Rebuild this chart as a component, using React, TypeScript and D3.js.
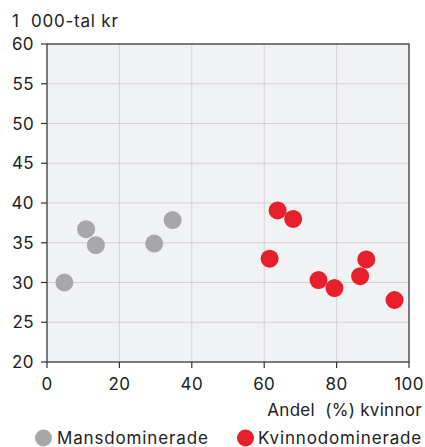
import React from "react";
import * as d3 from "d3";

const maleX = [4.8, 10.8, 13.5, 29.6, 34.7];
const maleY = [30.0, 36.7, 34.7, 34.9, 37.85];
const femaleX = [63.7, 68.0, 61.5, 88.2, 86.5, 75.0, 79.4, 96.0];
const femaleY = [39.07, 38.0, 33.0, 32.9, 30.8, 30.3, 29.3, 27.8];
const xTicks = [0, 20, 40, 60, 80, 100];
const yTicks = [20, 25, 30, 35, 40, 45, 50, 55, 60];
const seriesNames = ["Mansdominerade", "Kvinnodominerade"];
const yUnit = "1  000-tal kr";
const xTitle = "Andel  (%) kvinnor";

const W = 425, H = 447;
const left = 47, right = 409, top = 44, bottom = 362;
const font = "Inter, 'Noto Sans', sans-serif";
const gray = "#a7a7a9";
const red = "#e8202b";
const textColor = "#222";

export default function App() {
  const x = d3.scaleLinear().domain([0, 100]).range([left, right]);
  const y = d3.scaleLinear().domain([20, 60]).range([bottom, top]);
  return (
    <svg width={W} height={H} style={{ position: "absolute", left: 0, top: 0 }}>
      <rect x={left} y={top} width={right - left} height={bottom - top} fill="#f1f2f4" />
      {xTicks.map((t) => (
        <line key={"gx" + t} x1={x(t)} x2={x(t)} y1={top} y2={bottom} stroke="#d3d3d5" strokeWidth={1} />
      ))}
      {yTicks.map((t) => (
        <line key={"gy" + t} x1={left} x2={right} y1={y(t)} y2={y(t)} stroke="#d3d3d5" strokeWidth={1} />
      ))}
      <rect x={left} y={top} width={right - left} height={bottom - top} fill="none" stroke="#333" strokeWidth={1.2} />
      {yTicks.map((t) => (
        <g key={"ty" + t}>
          <line x1={left - 6} x2={left} y1={y(t)} y2={y(t)} stroke="#333" strokeWidth={1.2} />
          <text x={34} y={y(t) + 6} textAnchor="end" fontFamily={font} fontSize={17} letterSpacing={0.4} fill={textColor}>{t}</text>
        </g>
      ))}
      {xTicks.map((t) => (
        <g key={"tx" + t}>
          <line x1={x(t)} x2={x(t)} y1={bottom} y2={bottom + 6} stroke="#333" strokeWidth={1.2} />
          <text x={x(t)} y={390} textAnchor="middle" fontFamily={font} fontSize={17} letterSpacing={0.4} fill={textColor}>{t}</text>
        </g>
      ))}
      <text x={12} y={27} fontFamily={font} fontSize={17} letterSpacing={0.8} fill={textColor} style={{ whiteSpace: "pre" }}>{yUnit}</text>
      <text x={422} y={416} textAnchor="end" fontFamily={font} fontSize={17} letterSpacing={0.3} fill={textColor} style={{ whiteSpace: "pre" }}>{xTitle}</text>
      {maleX.map((v, i) => (
        <circle key={"m" + i} cx={x(v)} cy={y(maleY[i])} r={9} fill={gray} />
      ))}
      {femaleX.map((v, i) => (
        <circle key={"f" + i} cx={x(v)} cy={y(femaleY[i])} r={9} fill={red} />
      ))}
      <circle cx={43.5} cy={438} r={8.5} fill={gray} />
      <text x={57} y={444} fontFamily={font} fontSize={17} letterSpacing={0.85} fill={textColor}>{seriesNames[0]}</text>
      <circle cx={245.5} cy={438} r={8.5} fill={red} />
      <text x={258} y={444} fontFamily={font} fontSize={17} letterSpacing={0.85} fill={textColor}>{seriesNames[1]}</text>
    </svg>
  );
}
